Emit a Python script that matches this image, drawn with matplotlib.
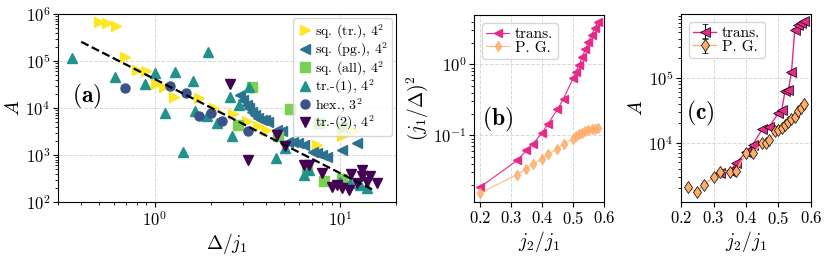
import numpy as np
import matplotlib
matplotlib.use("Agg")
import matplotlib.pyplot as plt

# fonts: computer modern look
plt.rcParams['font.family'] = 'serif'
plt.rcParams['font.serif'] = ['cmr10', 'DejaVu Serif']
plt.rcParams['mathtext.fontset'] = 'cm'
plt.rcParams['axes.formatter.use_mathtext'] = True
plt.rcParams['axes.unicode_minus'] = False

# ---- panel (a) data : Delta/j1 vs A ----
sq_tr_x = [0.50, 0.55, 0.62, 0.69, 0.80, 0.89, 1.01, 1.12, 1.27, 1.74, 2.09, 2.65, 3.13, 3.62, 4.0, 7.5, 10.2, 11.8]
sq_tr_y = [6.9e5, 6.3e5, 5.6e5, 1.2e5, 6.5e4, 6.2e4, 3.3e4, 2.8e4, 1.7e4, 1.6e4, 9.8e3, 7.5e3, 5.4e3, 4.1e3, 3.4e3, 1.6e3, 2.5e3, 3.4e3]

sq_pg_x = [2.88, 3.0, 3.13, 3.2, 3.33, 3.47, 3.62, 3.77, 3.93, 4.1, 4.54, 4.84, 5.25, 5.59, 5.95, 6.34, 7.17, 7.48, 7.96, 8.48, 10.2, 12.3]
sq_pg_y = [1.9e4, 1.48e4, 1.16e4, 9.8e3, 8.3e3, 7.1e3, 6.0e3, 5.6e3, 5.6e3, 5.1e3, 3.4e3, 3.2e3, 1.9e3, 1.9e3, 1.8e3, 1.6e3, 1.17e3, 1.08e3, 1.0e3, 920, 1.3e3, 1.8e3]

sq_all_x = [2.82, 3.33, 4.64, 5.37, 6.6, 7.73, 8.13, 10.2, 10.2]
sq_all_y = [4.4e3, 2.8e4, 2.5e3, 9.3e3, 560, 4.7e3, 280, 315, 4.0e3]

tr1_x = [0.356, 0.61, 0.88, 1.0, 1.14, 1.29, 1.42, 1.60, 1.65, 1.92, 1.93, 2.15, 2.54, 2.6, 2.84, 3.2, 4.49, 5.04, 6.34, 6.75, 10.0, 11.3, 12.8, 13.9]
tr1_y = [1.14e5, 4.6e4, 3.3e4, 5.5e4, 7.7e3, 5.9e4, 1.17e3, 3.8e4, 8.7e3, 6.6e3, 1.55e5, 4.9e3, 1.75e4, 2.6e3, 1.15e4, 2.8e4, 850, 1.4e3, 370, 480, 270, 250, 230, 195]

hex_x = [0.69, 1.21, 1.48, 1.74, 2.02, 2.31, 3.17]
hex_y = [2.7e4, 3.0e4, 2.1e4, 6.6e3, 7.9e3, 5.4e3, 3.2e3]

tr2_x = [2.54, 3.17, 4.55, 5.04, 6.34, 6.75, 7.96, 9.0, 9.6, 10.2, 11.1, 11.5, 12.3, 13.1, 13.1, 13.9, 14.5, 15.8]
tr2_y = [3.3e4, 780, 2.7e3, 1.56e3, 610, 610, 410, 210, 230, 195, 180, 400, 250, 480, 350, 270, 350, 250]

series_labels = [r'sq. (tr.), $4^2$', r'sq. (pg.), $4^2$', r'sq. (all), $4^2$',
                 r'tr.-(1), $4^2$', r'hex., $3^2$', r'tr.-(2), $4^2$']
series_colors = ['#fde725', '#2c728e', '#7ad151', '#21918c', '#3b528b', '#440154']

# power law guide A ~ amp * x^expo
fit_amp = 4.1e4
fit_expo = -2.0
fit_range = [0.4, 15.0]

# ---- panel (b) data : (j1/Delta)^2 vs j2/j1 ----
j2_b = [0.20, 0.32, 0.35, 0.37, 0.40, 0.42, 0.45, 0.47, 0.50, 0.51, 0.52, 0.53, 0.54, 0.55, 0.56, 0.57, 0.58]
trans_b = [0.0186, 0.0443, 0.0614, 0.0746, 0.108, 0.146, 0.233, 0.33, 0.634, 0.787, 0.98, 1.28, 1.63, 2.09, 2.6, 3.23, 4.0]
pg_b = [0.0153, 0.028, 0.0337, 0.039, 0.0468, 0.0538, 0.0648, 0.0762, 0.0897, 0.0968, 0.104, 0.108, 0.115, 0.12, 0.123, 0.124, 0.128]

# ---- panel (c) data : A vs j2/j1 ----
j2_trans_c = [0.32, 0.35, 0.37, 0.40, 0.42, 0.45, 0.47, 0.50, 0.51, 0.52, 0.53, 0.54, 0.55, 0.56, 0.57, 0.58]
trans_c = [3460, 3630, 4890, 7240, 9200, 1.63e4, 1.73e4, 2.86e4, 3.2e4, 6.2e4, 6.4e4, 1.22e5, 5.5e5, 6.4e5, 7.0e5, 7.5e5]
trans_c_err = [170, 180, 240, 360, 460, 800, 870, 1400, 1600, 3100, 3200, 6000, 27000, 32000, 35000, 37000]

j2_pg_c = [0.22, 0.25, 0.27, 0.30, 0.32, 0.35, 0.37, 0.40, 0.42, 0.45, 0.46, 0.47, 0.49, 0.50, 0.51, 0.52, 0.53, 0.54, 0.55, 0.56, 0.57, 0.58]
pg_c = [2070, 1770, 2280, 2960, 3600, 3600, 3700, 7000, 6900, 9800, 1.0e4, 1.1e4, 1.5e4, 1.6e4, 1.7e4, 1.9e4, 2.1e4, 2.3e4, 2.5e4, 3.1e4, 3.4e4, 3.9e4]
pg_c_err = [100, 90, 110, 150, 180, 180, 190, 350, 350, 490, 500, 550, 750, 800, 850, 950, 1050, 1150, 1250, 1550, 1700, 1950]

pink = '#e7298a'
orange = '#fdae6b'

fig = plt.figure(figsize=(8.3, 2.56), dpi=100)
axa = fig.add_axes([0.0699, 0.2109, 0.4072, 0.7344])
axb = fig.add_axes([0.5711, 0.2109, 0.1566, 0.7305])
axc = fig.add_axes([0.8205, 0.2109, 0.1566, 0.7344])

for ax in (axa, axb, axc):
    ax.grid(True, which='major', ls='--', color='#d9d9d9', lw=0.7)
    ax.set_axisbelow(True)
    ax.tick_params(labelsize=12, pad=2)

# (a)
xs = [sq_tr_x, sq_pg_x, sq_all_x, tr1_x, hex_x, tr2_x]
ys = [sq_tr_y, sq_pg_y, sq_all_y, tr1_y, hex_y, tr2_y]
marks = ['>', '<', 's', '^', 'o', 'v']
sizes = [7, 7, 6.5, 7, 6.5, 7]
for x, y, m, ms, c, lab in zip(xs, ys, marks, sizes, series_colors, series_labels):
    axa.plot(x, y, ls='none', marker=m, ms=ms, color=c, label=lab)
xf = np.array(fit_range)
axa.plot(xf, fit_amp * xf ** fit_expo, 'k--', lw=1.6)
axa.set_xscale('log')
axa.set_yscale('log')
axa.set_xlim(0.3, 20)
axa.set_ylim(1e2, 1e6)
axa.set_xlabel(r'$\Delta/j_1$', fontsize=14, labelpad=2)
axa.set_ylabel(r'$A$', fontsize=14, labelpad=2)
axa.legend(loc='upper right', fontsize=10, handletextpad=0.1, handlelength=1.2,
           borderpad=0.3, labelspacing=0.0, borderaxespad=0.3)
axa.text(0.04, 0.56, r'$\mathbf{(a)}$', transform=axa.transAxes, fontsize=17, va='center')

# (b)
axb.plot(j2_b, trans_b, color=pink, lw=0.8, marker='<', ms=5.5, label='trans.')
axb.plot(j2_b, pg_b, color=orange, lw=0.8, marker='d', ms=5.5, alpha=0.85, label='P. G.')
axb.set_yscale('log')
axb.set_ylim(0.0115, 4.95)
axb.set_xticks([0.2, 0.3, 0.4, 0.5, 0.6])
axb.set_xlabel(r'$j_2/j_1$', fontsize=14, labelpad=2)
axb.set_ylabel(r'$(j_1/\Delta)^2$', fontsize=14, labelpad=2)
axb.legend(loc='upper left', fontsize=11, handletextpad=0.4, handlelength=1.5,
           labelspacing=0.0, borderpad=0.3)
axb.text(0.06, 0.44, r'$\mathbf{(b)}$', transform=axb.transAxes, fontsize=17, va='center')

# (c)
axc.errorbar(j2_trans_c, trans_c, yerr=trans_c_err, color=pink, lw=1.0, marker='<', ms=6.5,
             mec='k', mew=0.5, ecolor='k', elinewidth=0.8, capsize=2, label='trans.')
axc.errorbar(j2_pg_c, pg_c, yerr=pg_c_err, color=orange, lw=1.0, marker='d', ms=6.5,
             mec='k', mew=0.5, ecolor='k', elinewidth=0.8, capsize=2, label='P. G.')
axc.set_yscale('log')
axc.set_xlim(0.2, 0.6)
axc.set_ylim(1230, 9.6e5)
axc.set_xticks([0.2, 0.3, 0.4, 0.5, 0.6])
axc.set_xlabel(r'$j_2/j_1$', fontsize=14, labelpad=2)
axc.set_ylabel(r'$A$', fontsize=14, labelpad=2)
axc.legend(loc='upper left', fontsize=11, handletextpad=0.4, handlelength=1.5,
           labelspacing=0.0, borderpad=0.3)
axc.text(0.04, 0.47, r'$\mathbf{(c)}$', transform=axc.transAxes, fontsize=17, va='center')

fig.savefig('out.png', dpi=100)
